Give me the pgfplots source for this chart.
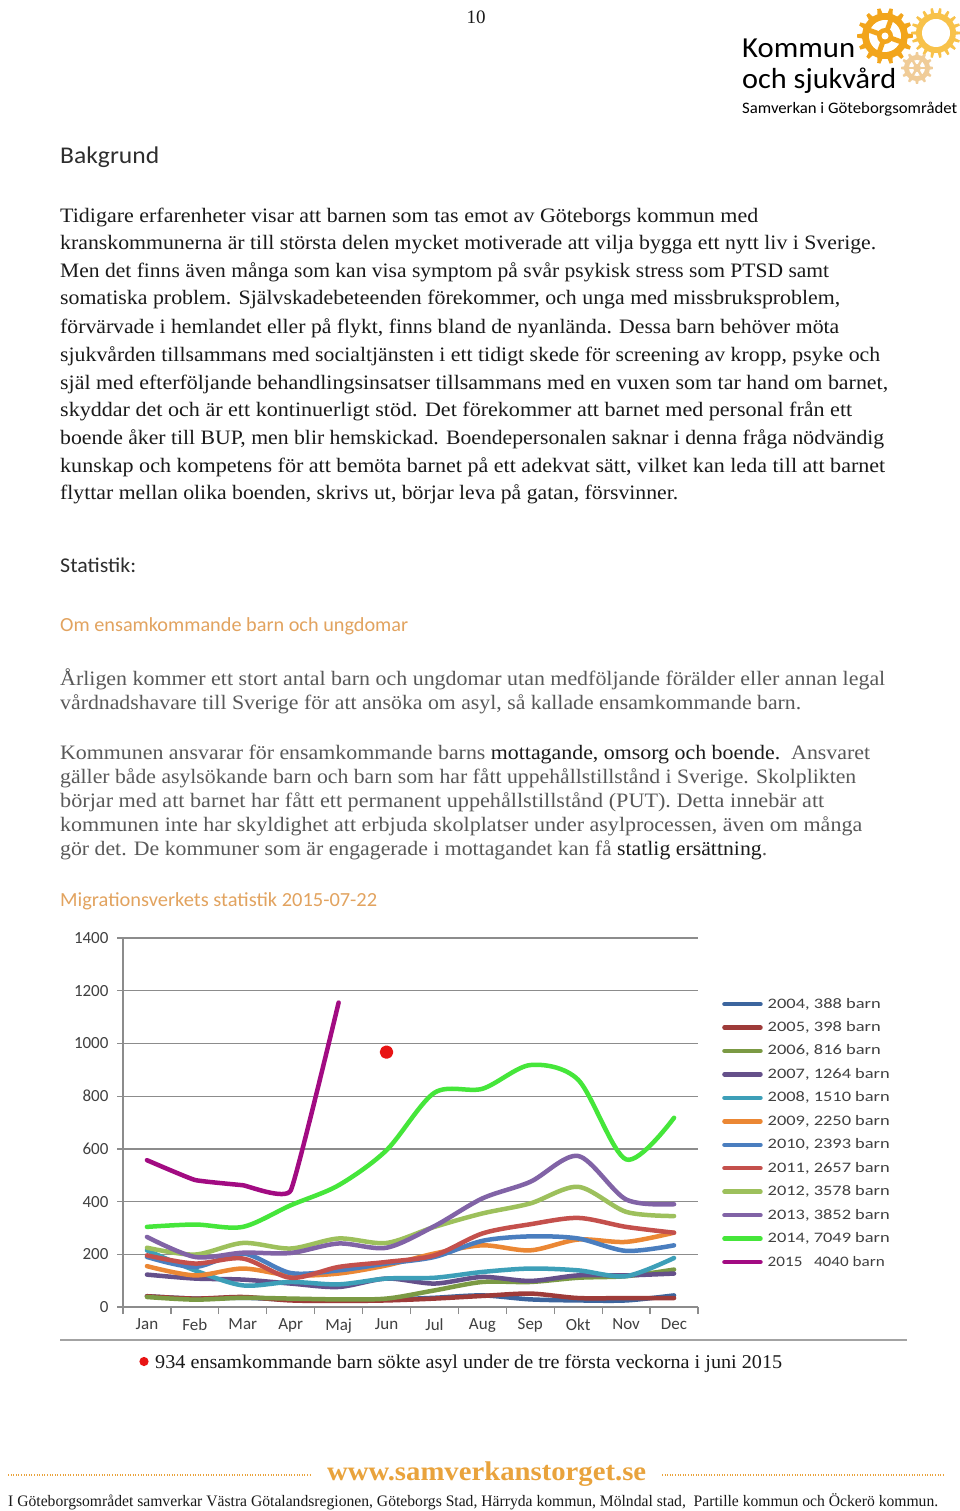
\documentclass[border=0pt]{standalone}
\usepackage{fontspec}
\usepackage{graphicx}
\usepackage{pgfplots}
\pgfplotsset{compat=1.18}
\setmainfont{Liberation Serif}
\newfontfamily\calib{Carlito}
\definecolor{bodyc}{HTML}{1A1A1A}
\definecolor{grayc}{HTML}{595959}
\definecolor{headc}{HTML}{2E2E2E}
\definecolor{orh}{HTML}{E2A35F}
\definecolor{orw}{HTML}{E9A33C}
\definecolor{gridc}{HTML}{8C8C8C}
\definecolor{labc}{HTML}{404040}
\definecolor{dotred}{HTML}{E81414}
\definecolor{c04}{HTML}{3C659E}
\definecolor{c05}{HTML}{9E3B39}
\definecolor{c06}{HTML}{7B9A44}
\definecolor{c07}{HTML}{65508A}
\definecolor{c08}{HTML}{3D9FB8}
\definecolor{c09}{HTML}{EB8734}
\definecolor{c10}{HTML}{4A7EBF}
\definecolor{c11}{HTML}{C4504C}
\definecolor{c12}{HTML}{9DC05C}
\definecolor{c13}{HTML}{8163A6}
\definecolor{c14}{HTML}{45E63A}
\definecolor{c15}{HTML}{A20B82}
\definecolor{g1}{HTML}{F2A51C}
\definecolor{g2}{HTML}{F8C24A}
\definecolor{g3}{HTML}{F0CC98}
\newlength\fitlen
\newcommand\fitw[2]{\settowidth\fitlen{#2}\pgfmathsetmacro\fitr{#1/\fitlen}\scalebox{\fitr}[1]{#2}}
\newcommand\gear[6]{%
\fill[#6] ({#1+#4},{#2}) \foreach \k in {1,...,#5}{
 -- ({#1+#4*cos((\k-0.24)*360/#5)},{#2+#4*sin((\k-0.24)*360/#5)})
 -- ({#1+#3*cos((\k-0.13)*360/#5)},{#2+#3*sin((\k-0.13)*360/#5)})
 -- ({#1+#3*cos((\k+0.13)*360/#5)},{#2+#3*sin((\k+0.13)*360/#5)})
 -- ({#1+#4*cos((\k+0.24)*360/#5)},{#2+#4*sin((\k+0.24)*360/#5)})
} -- cycle;}
\begin{document}
\begin{tikzpicture}
\fill[white] (0,0) rectangle (960pt,-1511pt);
\path[use as bounding box] (0,0) rectangle (960pt,-1511pt);
\begin{scope}[x=1pt,y=-1pt]
% page number
\node[anchor=base, inner sep=0, font=\fontsize{19}{22}\selectfont, text=bodyc] at (476,24) {10};
% logo
\gear{936}{33}{25}{20}{18}{g2}
\fill[white] (936,33) circle (14);
\gear{917}{68}{16}{13}{12}{g3}
\fill[white] (917,68) circle (8);
\fill[g3] (917,68) circle (4);
\foreach \a in {0,60,...,300} {\draw[g3, line width=2.5pt] (917,68) -- ++(\a:9);}
\gear{885}{36}{28}{23}{14}{g1}
\fill[white] (885,36) circle (16);
\fill[g1] (885,36) circle (8);
\foreach \a in {20,110,200,290} {\draw[g1, line width=5pt] (885,36) -- ++(\a:17);}
\fill[white] (885,36) circle (3.5);
\node[anchor=base west, inner sep=0, font=\calib\fontsize{29}{32}\selectfont, text=black] at (742,58) {\fitw{113}{Kommun}};
\node[anchor=base west, inner sep=0, font=\calib\fontsize{29}{32}\selectfont, text=black] at (742,89) {\fitw{154}{och sjukvård}};
\node[anchor=base west, inner sep=0, font=\calib\fontsize{16}{18}\selectfont, text=black] at (742,114) {\fitw{215}{Samverkan i Göteborgsområdet}};
% headings
\node[anchor=base west, inner sep=0, font=\calib\fontsize{24}{28}\selectfont, text=headc] at (60,164) {\fitw{99}{Bakgrund}};
% paragraph 1
\begin{scope}[every node/.style={anchor=base west, inner sep=0, font=\fontsize{20.5}{24}\selectfont, text=bodyc}]
\node at (60,223) {\fitw{698}{Tidigare erfarenheter visar att barnen som tas emot av Göteborgs kommun med}};
\node at (60,250) {\fitw{816}{kranskommunerna är till största delen mycket motiverade att vilja bygga ett nytt liv i Sverige.}};
\node at (60,278) {\fitw{769}{Men det finns även många som kan visa symptom på svår psykisk stress som PTSD samt}};
\node at (60,305) {\fitw{780}{somatiska problem. Självskadebeteenden förekommer, och unga med missbruksproblem,}};
\node at (60,333) {\fitw{779}{förvärvade i hemlandet eller på flykt, finns bland de nyanlända. Dessa barn behöver möta}};
\node at (60,361) {\fitw{820}{sjukvården tillsammans med socialtjänsten i ett tidigt skede för screening av kropp, psyke och}};
\node at (60,389) {\fitw{828}{själ med efterföljande behandlingsinsatser tillsammans med en vuxen som tar hand om barnet,}};
\node at (60,416) {\fitw{792}{skyddar det och är ett kontinuerligt stöd. Det förekommer att barnet med personal från ett}};
\node at (60,444) {\fitw{824}{boende åker till BUP, men blir hemskickad. Boendepersonalen saknar i denna fråga nödvändig}};
\node at (60,472) {\fitw{825}{kunskap och kompetens för att bemöta barnet på ett adekvat sätt, vilket kan leda till att barnet}};
\node at (60,499) {\fitw{618}{flyttar mellan olika boenden, skrivs ut, börjar leva på gatan, försvinner.}};
\end{scope}
\node[anchor=base west, inner sep=0, font=\calib\fontsize{21}{24}\selectfont, text=headc] at (60,572) {\fitw{76}{Statistik:}};
\node[anchor=base west, inner sep=0, font=\calib\fontsize{20}{24}\selectfont, text=orh] at (60,631) {\fitw{348}{Om ensamkommande barn och ungdomar}};
\begin{scope}[every node/.style={anchor=base west, inner sep=0, font=\fontsize{20.5}{24}\selectfont, text=grayc}]
\node at (60,685) {\fitw{825}{Årligen kommer ett stort antal barn och ungdomar utan medföljande förälder eller annan legal}};
\node at (60,709) {\fitw{741}{vårdnadshavare till Sverige för att ansöka om asyl, så kallade ensamkommande barn.}};
\node at (60,759) {\fitw{810}{Kommunen ansvarar för ensamkommande barns \textcolor{bodyc}{mottagande, omsorg och boende.}\ \ Ansvaret}};
\node at (60,783) {\fitw{796}{gäller både asylsökande barn och barn som har fått uppehållstillstånd i Sverige. Skolplikten}};
\node at (60,807) {\fitw{764}{börjar med att barnet har fått ett permanent uppehållstillstånd (PUT). Detta innebär att}};
\node at (60,831) {\fitw{802}{kommunen inte har skyldighet att erbjuda skolplatser under asylprocessen, även om många}};
\node at (60,855) {\fitw{707}{gör det. De kommuner som är engagerade i mottagandet kan få \textcolor{bodyc}{statlig ersättning}.}};
\end{scope}
\node[anchor=base west, inner sep=0, font=\calib\fontsize{20}{24}\selectfont, text=orh] at (60,906) {\fitw{317}{Migrationsverkets statistik 2015-07-22}};
% rule and caption under chart
\draw[color=gridc!80, line width=1.5pt] (60,1340) -- (907,1340);
\fill[dotred] (144,1361.5) circle (4.6);
\node[anchor=base west, inner sep=0, font=\fontsize{19.5}{22}\selectfont, text=bodyc] at (155,1368) {\fitw{627}{934 ensamkommande barn sökte asyl under de tre första veckorna i juni 2015}};
% footer
\draw[orw, line width=1.3pt, dash pattern=on 1pt off 1.6pt] (8,1475) -- (312,1475);
\draw[orw, line width=1.3pt, dash pattern=on 1pt off 1.6pt] (662,1475) -- (945,1475);
\node[anchor=base west, inner sep=0, font=\bfseries\fontsize{27}{30}\selectfont, text=orw] at (327,1480) {\fitw{319}{www.samverkanstorget.se}};
\node[anchor=base west, inner sep=0, font=\fontsize{16}{18}\selectfont, text=bodyc] at (8,1506) {\fitw{930}{I Göteborgsområdet samverkar Västra Götalandsregionen, Göteborgs Stad, Härryda kommun, Mölndal stad,\ \ Partille kommun och Öckerö kommun.}};
\end{scope}
\begin{axis}[
 at={(123pt,-1307pt)}, anchor=south west,
 scale only axis, width=575pt, height=369pt,
 xmin=-0.5, xmax=11.5, ymin=0, ymax=1400,
 clip=false,
 xtick={0,...,11},
 xticklabels={Jan,Feb,Mar,Apr,Maj,Jun,Jul,Aug,Sep,Okt,Nov,Dec},
 minor xtick={-0.5,0.5,...,11.5},
 ytick={0,200,...,1400},
 axis x line*=bottom, axis y line*=left,
 ymajorgrids,
 grid style={color=gridc, line width=1.3pt},
 axis line style={color=gridc, line width=1.3pt},
 tick style={color=gridc, line width=1.3pt},
 major x tick style={draw=none},
 tick align=outside,
 major tick length=6pt, minor tick length=7pt,
 ticklabel style={font=\calib\fontsize{17}{19}\selectfont, text=labc},
 yticklabel style={xshift=-5pt},
 xticklabel style={yshift=-2pt},
 /pgf/number format/assume math mode=true,
 /pgf/number format/set thousands separator={},
 legend style={at={(axis description cs:1.0418,0.8405)}, anchor=north west, draw=none, fill=none,
   font=\calib\fontsize{14.5}{17}\selectfont, text=labc, row sep=9.45pt, column sep=5pt, inner sep=0pt,
   nodes={inner sep=0pt, text height=11pt, text depth=3pt}},
 legend cell align=left,
 legend image code/.code={\draw[#1, line width=4.5pt, line cap=round] (2pt,0pt) -- (38pt,0pt);},
 every axis plot/.append style={line width=4.5pt, smooth, tension=0.5, line cap=round, line join=round},
]
\addplot[c04] coordinates {(0,41)(1,32)(2,35)(3,28)(4,25)(5,28)(6,35)(7,44)(8,29)(9,25)(10,25)(11,44)};
\addlegendentry{\fitw{113}{2004, 388 barn}}
\addplot[c05] coordinates {(0,41)(1,32)(2,38)(3,25)(4,23)(5,25)(6,32)(7,42)(8,51)(9,34)(10,34)(11,34)};
\addlegendentry{\fitw{113}{2005, 398 barn}}
\addplot[c06] coordinates {(0,38)(1,28)(2,35)(3,32)(4,29)(5,32)(6,63)(7,95)(8,95)(9,111)(10,117)(11,142)};
\addlegendentry{\fitw{113}{2006, 816 barn}}
\addplot[c07] coordinates {(0,123)(1,108)(2,104)(3,89)(4,76)(5,108)(6,89)(7,114)(8,99)(9,120)(10,120)(11,127)};
\addlegendentry{\fitw{122}{2007, 1264 barn}}
\addplot[c08] coordinates {(0,215)(1,139)(2,82)(3,95)(4,86)(5,108)(6,111)(7,133)(8,146)(9,139)(10,117)(11,186)};
\addlegendentry{\fitw{122}{2008, 1510 barn}}
\addplot[c09] coordinates {(0,155)(1,120)(2,146)(3,120)(4,127)(5,158)(6,203)(7,234)(8,215)(9,256)(10,247)(11,282)};
\addlegendentry{\fitw{122}{2009, 2250 barn}}
\addplot[c10] coordinates {(0,190)(1,152)(2,203)(3,129)(4,139)(5,165)(6,190)(7,251)(8,268)(9,260)(10,213)(11,234)};
\addlegendentry{\fitw{122}{2010, 2393 barn}}
\addplot[c11] coordinates {(0,196)(1,165)(2,184)(3,111)(4,152)(5,171)(6,196)(7,279)(8,314)(9,338)(10,304)(11,282)};
\addlegendentry{\fitw{122}{2011, 2657 barn}}
\addplot[c12] coordinates {(0,225)(1,199)(2,243)(3,222)(4,260)(5,243)(6,304)(7,355)(8,393)(9,456)(10,361)(11,345)};
\addlegendentry{\fitw{122}{2012, 3578 barn}}
\addplot[c13] coordinates {(0,266)(1,190)(2,206)(3,205)(4,241)(5,225)(6,307)(7,412)(8,475)(9,573)(10,408)(11,390)};
\addlegendentry{\fitw{122}{2013, 3852 barn}}
\addplot[c14] coordinates {(0,304)(1,313)(2,304)(3,386)(4,462)(5,595)(6,813)(7,828)(8,918)(9,862)(10,560)(11,718)};
\addlegendentry{\fitw{122}{2014, 7049 barn}}
\addplot[c15, tension=0.2] coordinates {(0,557)(1,482)(2,462)(3,442)(4,1155)};
\addlegendentry{\fitw{117}{2015\ \ \ 4040 barn}}
\addplot[only marks, mark=*, mark size=4.5pt, color=dotred, forget plot] coordinates {(5,967)};
\end{axis}
\end{tikzpicture}
\end{document}
